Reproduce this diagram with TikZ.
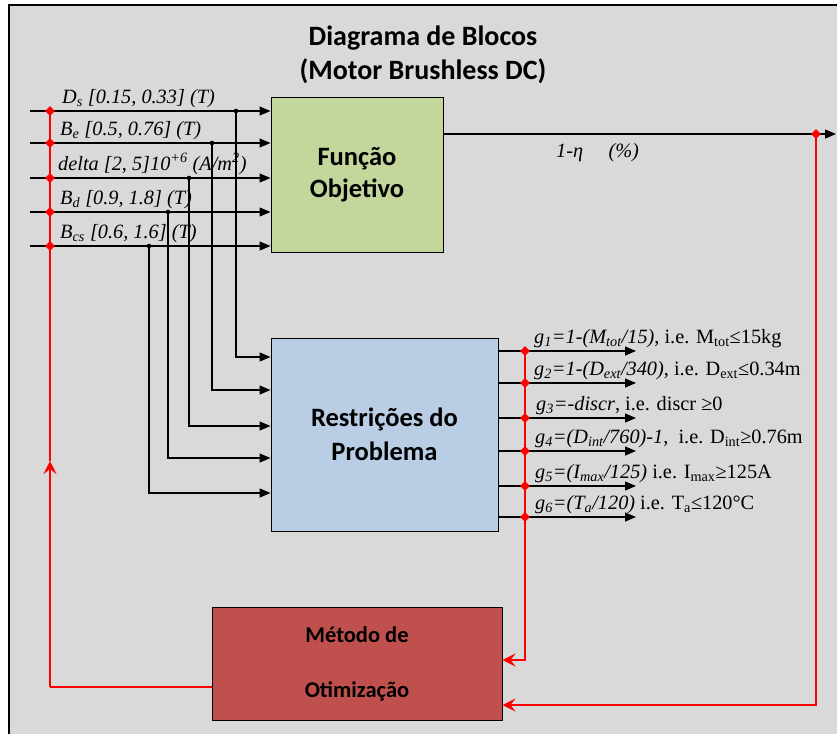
\documentclass[tikz,border=0pt]{standalone}
\usepackage{fontspec}
\setmainfont{Liberation Serif}
\newfontfamily\calib{Carlito}
\usepackage{tikz}
\usetikzlibrary{arrows.meta,shapes.geometric}
\definecolor{bggray}{RGB}{217,217,217}
\definecolor{funcgreen}{RGB}{195,214,155}
\definecolor{restblue}{RGB}{185,205,229}
\definecolor{optred}{RGB}{192,80,77}
\newcommand{\lsub}[1]{\textsubscript{#1}}

\begin{document}
\begin{tikzpicture}[x=1pt,y=-1pt,
    blk/.style={draw=black, line width=1pt, align=center, inner sep=0pt},
    sig/.style={line width=1.2pt, -{Triangle[length=11pt,width=9pt]}},
    fb/.style={draw=red, line width=2.6pt},
    fbtip/.style={-{Stealth[length=13pt,width=13pt,inset=5pt]}},
    rdot/.style={diamond, fill=red, inner sep=0pt, minimum size=10pt},
    lbl/.style={anchor=base west, inner sep=0pt, font=\fontsize{20.3}{22}\selectfont}]
  \useasboundingbox (0,0) rectangle (837,734);
  \fill[bggray] (9,5) rectangle (837,734);
  \draw[line width=1.5pt] (9,734) -- (9,5) -- (837,5);

  % title
  \node[align=center, font=\calib\bfseries\fontsize{28}{34}\selectfont] (title) at (423,55)
    {Diagrama de Blocos\\(Motor Brushless DC)};

  % blocks
  \node[blk, fill=funcgreen, minimum width=172, minimum height=155,
        font=\calib\bfseries\fontsize{26.5}{32}\selectfont] (fo) at (357,174.5) {Função\\Objetivo};
  \node[blk, fill=restblue, minimum width=227, minimum height=193,
        font=\calib\bfseries\fontsize{26.5}{34}\selectfont] (rp) at (384.5,434.5) {Restrições do\\Problema};
  \node[blk, fill=optred, minimum width=290, minimum height=113,
        font=\calib\bfseries\fontsize{22.5}{55}\selectfont] (opt) at (357,663.5) {Método de\\Otimização};

  % design variables
  \foreach \i/\yy/\tx/\ty in {1/111/236/357, 2/143/212/390, 3/178/189/426, 4/212/168/458, 5/246/149/493} {
    \coordinate (in\i) at (30,\yy);
    \coordinate (tap\i) at (\tx,\yy);
    \coordinate (bend\i) at (\tx,\ty);
    \draw[sig] (in\i) -- (in\i -| fo.west);
    \draw[sig] (tap\i) -- (bend\i) -- (bend\i -| rp.west);
    \fill (tap\i) circle (2.3);
  }
  \node[lbl] (lds) at (62,103) {\textit{D\lsub{s} [0.15, 0.33] (T)}};
  \node[lbl] (lbe) at (60,135) {\textit{B\lsub{e} [0.5, 0.76] (T)}};
  \node[lbl] (ldelta) at (58,170) {\textit{delta [2, 5]10\textsuperscript{+6} (A/m\textsuperscript{2})}};
  \node[lbl] (lbd) at (60,204) {\textit{B\lsub{d} [0.9, 1.8] (T)}};
  \node[lbl] (lbcs) at (60,238) {\textit{B\lsub{cs} [0.6, 1.6] (T)}};

  % objective output
  \coordinate (fout) at (836,134);
  \draw[sig] (fo.east |- fout) -- (fout);
  \node[lbl] (leta) at (556,157) {\textit{1-η}\quad\ \textit{(\%)}};

  % constraints
  \foreach \i/\yy in {1/351, 2/383, 3/418, 4/451, 5/486, 6/517} {
    \coordinate (out\i) at (636,\yy);
    \draw[sig] (out\i -| rp.east) -- (out\i);
  }
  \node[lbl] (lg1) at (534,343) {\textit{g\lsub{1}=1-(M\lsub{tot}/15)}, i.e. M\lsub{tot}≤15kg};
  \node[lbl] (lg2) at (534,375) {\textit{g\lsub{2}=1-(D\lsub{ext}/340)}, i.e. D\lsub{ext}≤0.34m};
  \node[lbl] (lg3) at (536,410) {\textit{g\lsub{3}=-discr}, i.e. discr ≥0};
  \node[lbl] (lg4) at (535,443) {\textit{g\lsub{4}=(D\lsub{int}/760)-1},\ \ i.e. D\lsub{int}≥0.76m};
  \node[lbl] (lg5) at (535,478) {\textit{g\lsub{5}=(I\lsub{max}/125)} i.e. I\lsub{max}≥125A};
  \node[lbl] (lg6) at (535,509) {\textit{g\lsub{6}=(T\lsub{a}/120)} i.e. T\lsub{a}≤120°C};

  % feedback loops
  \coordinate (lb) at (50,687);
  \coordinate (lbm) at (50,461);
  \coordinate (rb) at (525,660);
  \coordinate (fb2) at (816,705);
  \draw[fb] (opt.west |- lb) -- (lb);
  \draw[fb,fbtip] (lb) -- (lbm);
  \draw[fb] (lbm) -- (50,111);
  \draw[fb,fbtip] (525,351) -- (rb) -- (rb -| opt.east);
  \draw[fb,fbtip] (816,134) -- (fb2) -- (fb2 -| opt.east);
  \foreach \i in {1,...,5} \node[rdot] (id\i) at (in\i -| lb) {};
  \foreach \i in {1,...,6} \node[rdot] (od\i) at (out\i -| rb) {};
  \node[rdot] (fd) at (fout -| fb2) {};
\end{tikzpicture}
\end{document}
